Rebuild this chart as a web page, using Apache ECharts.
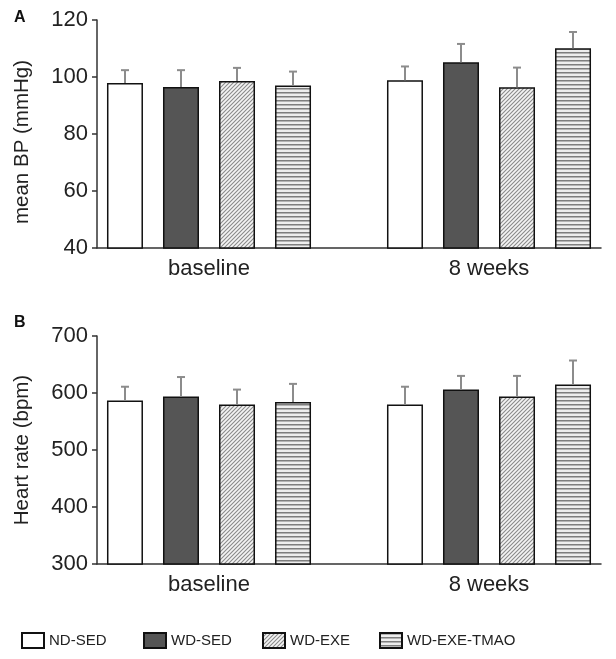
<!DOCTYPE html>
<html>
<head>
<meta charset="utf-8">
<script src="https://cdn.jsdelivr.net/npm/echarts@6/dist/echarts.min.js"></script>
<style>html,body{margin:0;padding:0;background:#fff}#c{width:616px;height:659px}</style>
</head>
<body>
<div id="c"></div>
<script>
// ---- data ----
const categories = ['baseline', '8 weeks'];
const groups = ['ND-SED', 'WD-SED', 'WD-EXE', 'WD-EXE-TMAO'];
const bpTicks = [40, 60, 80, 100, 120];
const hrTicks = [300, 400, 500, 600, 700];

// mean BP (mmHg) per group, [baseline, 8 weeks]
const bpNDSED = [97.9, 98.9];
const bpWDSED = [96.5, 105.2];
const bpWDEXE = [98.6, 96.4];
const bpTMAO  = [97.0, 110.1];
// error (upper bar)
const bpNDSEDerr = [4.5, 4.8];
const bpWDSEDerr = [5.9, 6.4];
const bpWDEXEerr = [4.6, 6.9];
const bpTMAOerr  = [4.9, 5.7];

// heart rate (bpm)
const hrNDSED = [587, 580];
const hrWDSED = [594, 606];
const hrWDEXE = [580, 594];
const hrTMAO  = [584, 615];
const hrNDSEDerr = [24, 31];
const hrWDSEDerr = [34, 24];
const hrWDEXEerr = [26, 36];
const hrTMAOerr  = [32, 42];

// ---- patterns ----
function diagPattern() {
  const c = document.createElement('canvas');
  c.width = 4; c.height = 4;
  const g = c.getContext('2d');
  g.fillStyle = '#f4f4f4'; g.fillRect(0, 0, 4, 4);
  g.strokeStyle = '#8a8a8a'; g.lineWidth = 1.1;
  g.beginPath();
  g.moveTo(-1, 5); g.lineTo(5, -1);
  g.moveTo(-3, 3); g.lineTo(3, -3);
  g.moveTo(1, 7); g.lineTo(7, 1);
  g.stroke();
  return c;
}
function stripePattern() {
  const c = document.createElement('canvas');
  c.width = 4; c.height = 4;
  const g = c.getContext('2d');
  g.fillStyle = '#eeeeee'; g.fillRect(0, 0, 4, 4);
  g.fillStyle = '#7e7e7e'; g.fillRect(0, 0, 4, 1);
  g.fillStyle = '#b4b4b4'; g.fillRect(0, 1, 4, 1);
  return c;
}
const fills = [
  '#ffffff',
  '#555555',
  { image: diagPattern(), repeat: 'repeat' },
  { image: stripePattern(), repeat: 'repeat' }
];

const font = 'Liberation Sans, Arial, sans-serif';
const chart = echarts.init(document.getElementById('c'), null, { renderer: 'canvas' });

const panels = [
  { top: 20, height: 228, min: 40, max: 120, interval: 20, name: 'mean BP (mmHg)', namePad: [0, 16, 0, 0],
    means: [bpNDSED, bpWDSED, bpWDEXE, bpTMAO], errs: [bpNDSEDerr, bpWDSEDerr, bpWDEXEerr, bpTMAOerr] },
  { top: 336, height: 228, min: 300, max: 700, interval: 100, name: 'Heart rate (bpm)', namePad: [0, 0, 0, 0],
    means: [hrNDSED, hrWDSED, hrWDEXE, hrTMAO], errs: [hrNDSEDerr, hrWDSEDerr, hrWDEXEerr, hrTMAOerr] }
];

const grid = [], xAxis = [], yAxis = [], series = [];
panels.forEach((p, pi) => {
  grid.push({ left: 97, width: 504, top: p.top, height: p.height });
  // group positions: value axis where category i sits at value i
  xAxis.push({ gridIndex: pi, type: 'value', min: -0.4, max: 1.4,
    axisLine: { show: true, onZero: false, lineStyle: { color: '#333', width: 1.5 } },
    axisTick: { show: false }, splitLine: { show: false },
    axisLabel: { customValues: [0, 1], formatter: v => categories[Math.round(v)] || '',
      fontSize: 22, color: '#222', fontFamily: font, margin: 10 } });
  yAxis.push({ gridIndex: pi, type: 'value', min: p.min, max: p.max, interval: p.interval,
    name: p.name, nameLocation: 'middle', nameGap: 64,
    nameTextStyle: { fontSize: 20.5, color: '#222', fontFamily: font, padding: p.namePad },
    axisLine: { show: true, onZero: false, lineStyle: { color: '#333', width: 1.5 } },
    axisTick: { show: true, length: 5, lineStyle: { color: '#333', width: 1.5 } },
    axisLabel: { fontSize: 22, color: '#222', fontFamily: font, margin: 9 },
    splitLine: { show: false } });

  groups.forEach((gname, gi) => {
    series.push({
      name: gname, type: 'bar', xAxisIndex: pi, yAxisIndex: pi,
      data: categories.map((c, ci) => [ci, p.means[gi][ci]]),
      barWidth: 36, barGap: '55.6%',
      itemStyle: { color: fills[gi], borderColor: '#111', borderWidth: 1.5 },
      emphasis: { disabled: true }, animation: false
    });
  });
  groups.forEach((gname, gi) => {
    series.push({
      type: 'custom', xAxisIndex: pi, yAxisIndex: pi, z: 3, animation: false, silent: true,
      data: categories.map((c, ci) => [ci, p.means[gi][ci], p.errs[gi][ci]]),
      encode: { x: 0, y: 1 },
      renderItem: function (params, api) {
        const cat = api.value(0), m = api.value(1), e = api.value(2);
        const unit = api.size([1, 0])[0];
        const off = (gi - 1.5) * unit * 0.2;
        const p0 = api.coord([cat, m]);
        const p1 = api.coord([cat, m + e]);
        const x = p0[0] + off;
        return { type: 'group', children: [
          { type: 'line', shape: { x1: x, y1: p0[1], x2: x, y2: p1[1] }, style: { stroke: '#8c8c8c', lineWidth: 2 } },
          { type: 'line', shape: { x1: x - 4, y1: p1[1], x2: x + 4, y2: p1[1] }, style: { stroke: '#8c8c8c', lineWidth: 2 } }
        ] };
      }
    });
  });
});

const legendLefts = [21, 143, 262, 379];
const legend = groups.map((g, i) => ({
  data: [g], left: legendLefts[i], top: 632, padding: 0, icon: 'rect',
  itemWidth: 22, itemHeight: 15, selectedMode: false,
  textStyle: { fontSize: 15, color: '#222', fontFamily: font }
}));

chart.setOption({
  animation: false,
  title: [
    { text: 'A', left: 9, top: 5, textStyle: { fontSize: 16, fontWeight: 'bold', color: '#111', fontFamily: font } },
    { text: 'B', left: 9, top: 310, textStyle: { fontSize: 16, fontWeight: 'bold', color: '#111', fontFamily: font } }
  ],
  legend, grid, xAxis, yAxis, series
});
</script>
</body>
</html>
